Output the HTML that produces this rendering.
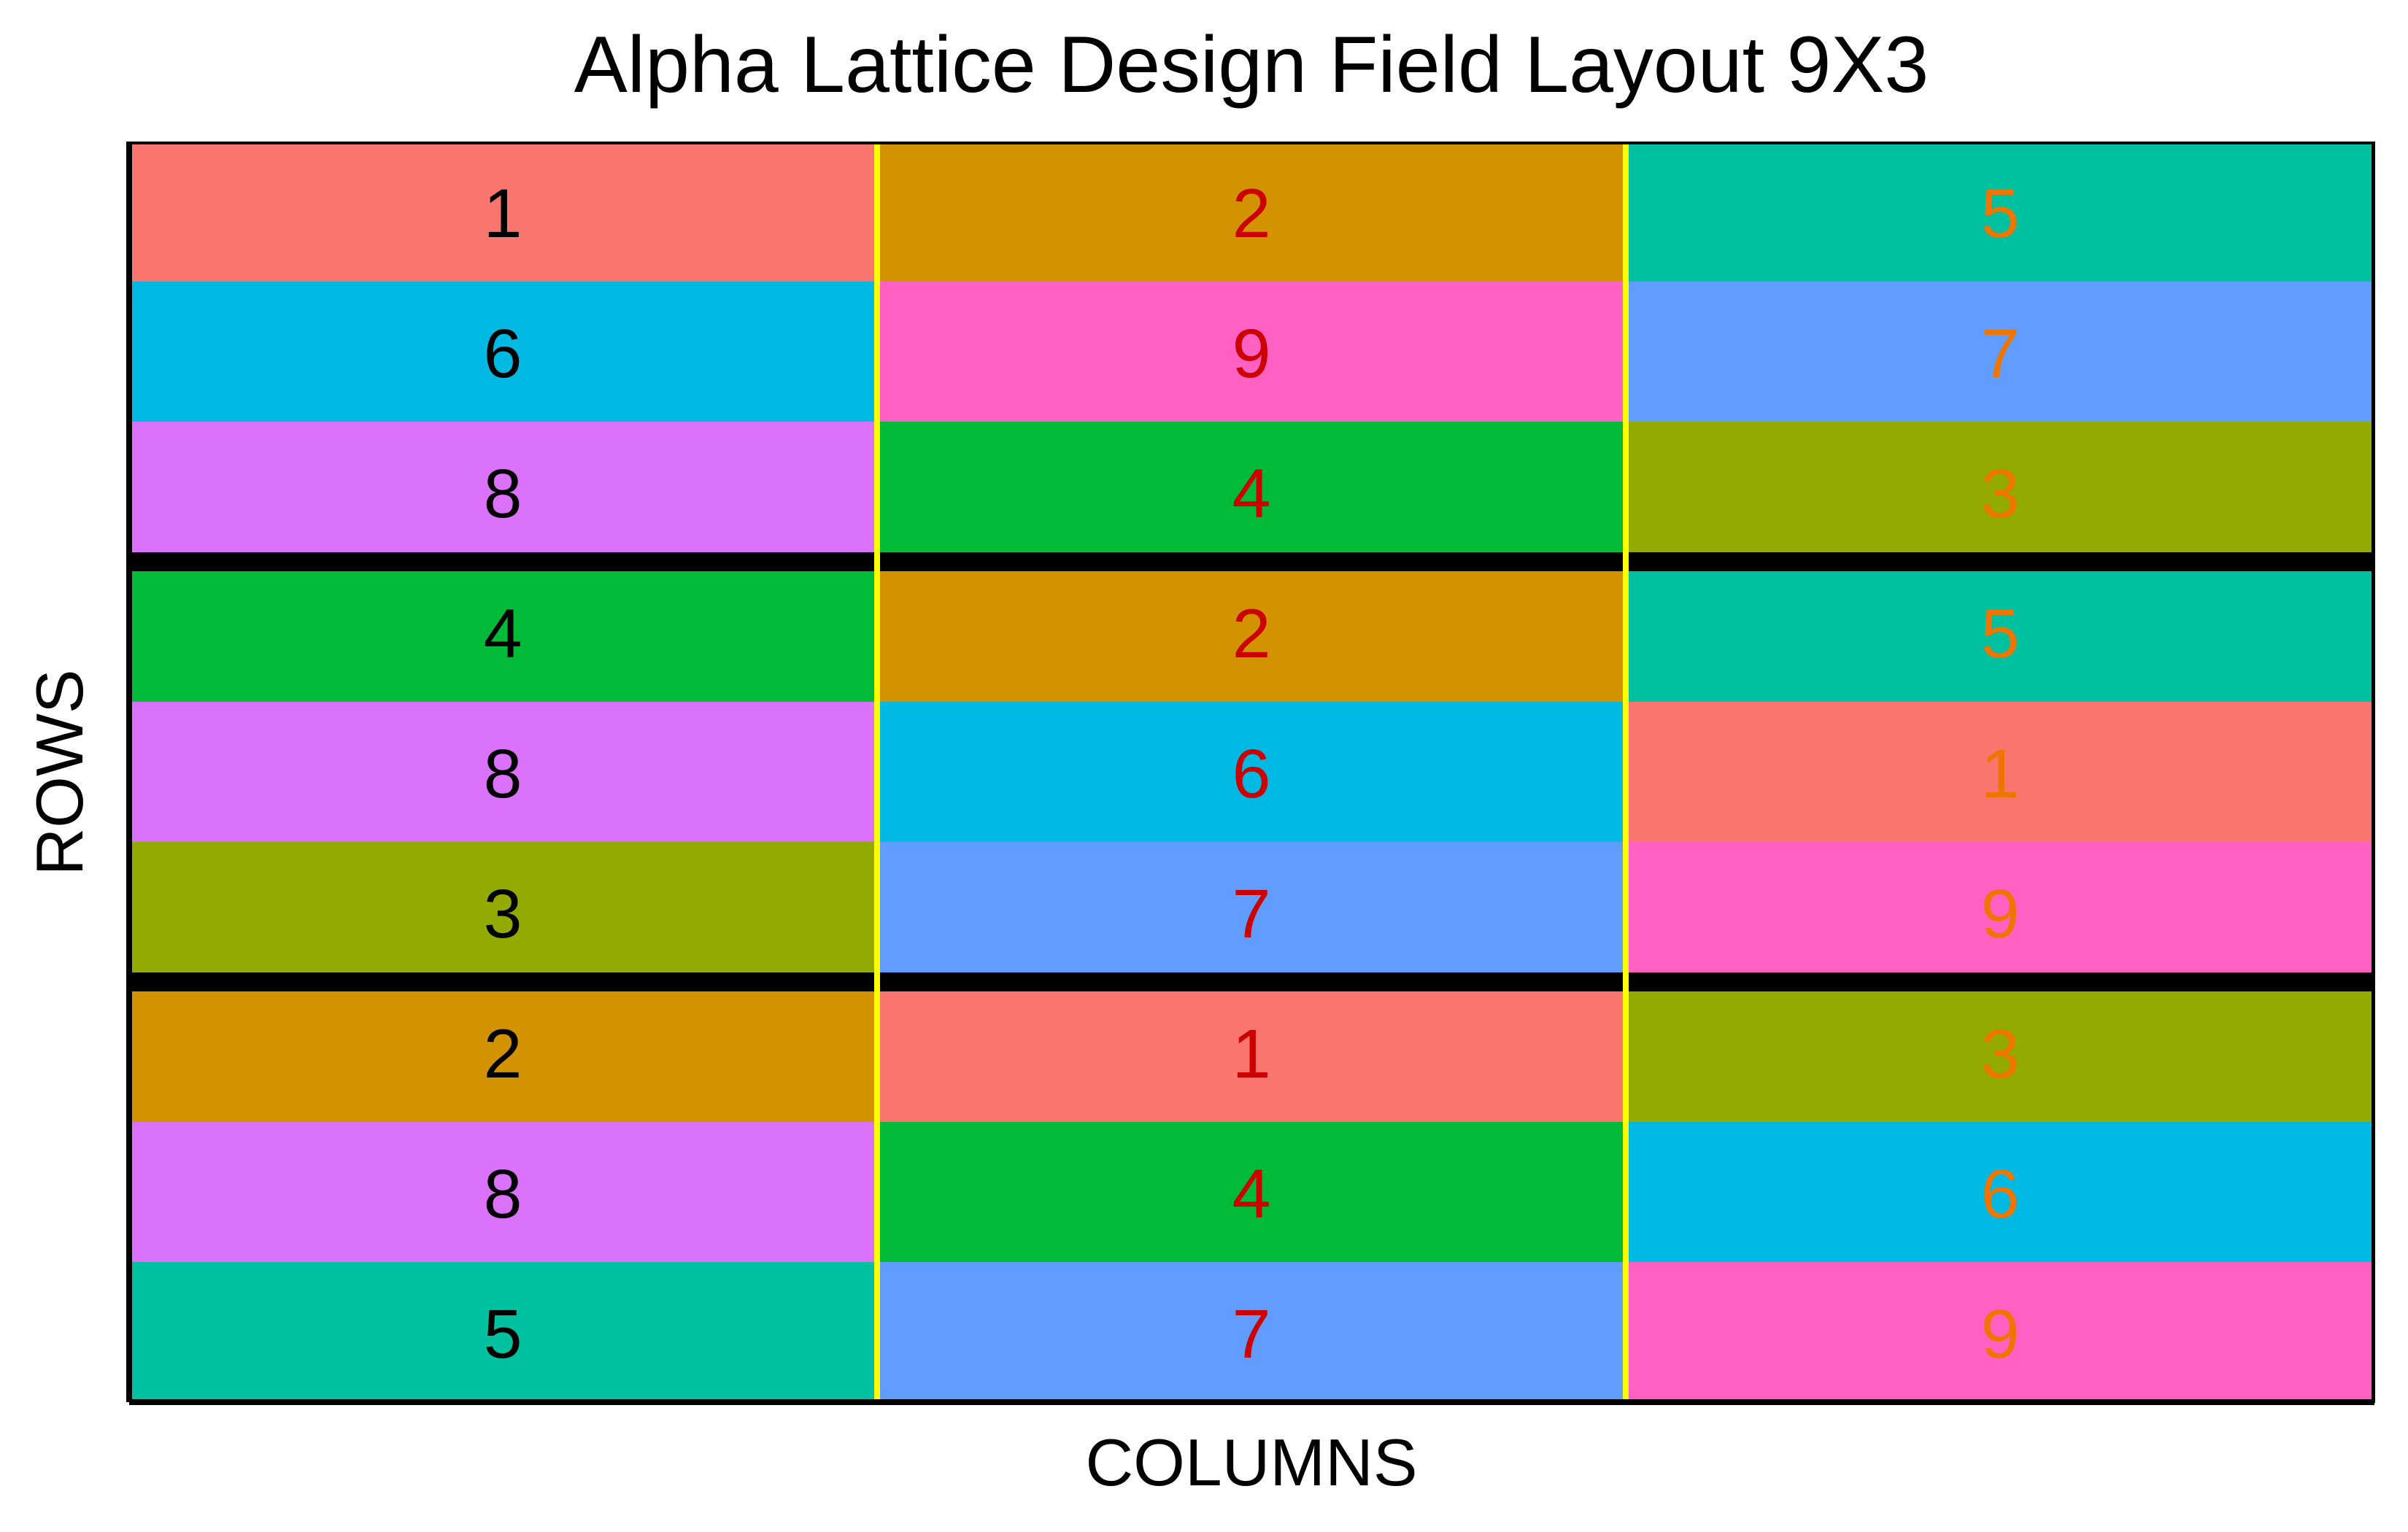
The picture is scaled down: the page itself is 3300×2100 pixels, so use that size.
<!DOCTYPE html>
<html lang="en">
<head>
<meta charset="utf-8">
<title>Alpha Lattice Design Field Layout 9X3</title>
<style>
  html, body { margin: 0; padding: 0; background: #fff; }
  svg { display: block; }
  text { font-family: "Liberation Sans", Arial, sans-serif; }
</style>
</head>
<body>
<svg id="chart" xmlns="http://www.w3.org/2000/svg" width="3300" height="2100" viewBox="0 0 3300 2100">
  <rect x="0" y="0" width="3300" height="2100" fill="#ffffff"/>
  <g id="tiles"></g>
  <g id="dividers"></g>
  <g id="frame">
    <rect x="173" y="194" width="3082" height="4" fill="#000"/>
    <rect x="173" y="194" width="8" height="1728" fill="#000"/>
    <rect x="3250" y="194" width="5" height="1729" fill="#000"/>
    <rect x="177" y="1918" width="3077" height="8" fill="#000"/>
  </g>
  <g id="labels"></g>
  <text x="1715" y="126" font-size="109.5" text-anchor="middle" fill="#000">Alpha Lattice Design Field Layout 9X3</text>
  <text x="1715" y="2036" font-size="91" text-anchor="middle" fill="#000">COLUMNS</text>
  <text transform="translate(113 1059) rotate(-90)" font-size="91" text-anchor="middle" fill="#000">ROWS</text>
</svg>
<script>
// Treatment number per plot, one array per column, listed top row to bottom row.
const column1 = [1, 6, 8, 4, 8, 3, 2, 8, 5];
const column2 = [2, 9, 4, 2, 6, 7, 1, 4, 7];
const column3 = [5, 7, 3, 5, 1, 9, 3, 6, 9];
const columns = [column1, column2, column3];
// Fill per treatment 1..9.
const treatmentColors = ['#F8766D', '#D39200', '#93AA00', '#00BA38', '#00C19F', '#00B9E3', '#619CFF', '#DB72FB', '#FF61C3'];
// Digit colour per column.
const columnTextColors = ['#000000', '#CD0000', '#EE7600'];
// Rows per replicate block.
const rowsPerBlock = 3;

const plotLeft = 176, plotRight = 3254, plotTop = 194, plotBottom = 1922;
const SVG_NS = 'http://www.w3.org/2000/svg';
const rowCount = column1.length;
const columnCount = columns.length;
function xScale(c) { return plotLeft + c * (plotRight - plotLeft) / columnCount; }
function yScale(r) { return plotTop + r * (plotBottom - plotTop) / rowCount; }

function make(tag, attrs) {
  const el = document.createElementNS(SVG_NS, tag);
  for (const k in attrs) el.setAttribute(k, attrs[k]);
  return el;
}

const tilesGroup = document.getElementById('tiles');
const labelsGroup = document.getElementById('labels');
const dividersGroup = document.getElementById('dividers');

columns.forEach(function (values, c) {
  values.forEach(function (treatment, r) {
    const tile = make('rect', {
      x: xScale(c),
      y: yScale(r),
      width: xScale(c + 1) - xScale(c),
      height: yScale(r + 1) - yScale(r),
      fill: treatmentColors[treatment - 1]
    });
    
    
    tilesGroup.appendChild(tile);

    const label = make('text', {
      x: (xScale(c) + xScale(c + 1)) / 2,
      y: (yScale(r) + yScale(r + 1)) / 2 + 35,
      'font-size': 95,
      'text-anchor': 'middle',
      fill: columnTextColors[c]
    });
    
    
    label.textContent = String(treatment);
    labelsGroup.appendChild(label);
  });
});

for (let r = rowsPerBlock; r < rowCount; r += rowsPerBlock) {
  const band = make('rect', {
    x: plotLeft,
    y: yScale(r) - 13,
    width: plotRight - plotLeft,
    height: 26,
    fill: '#000000'
  });
  
  
  dividersGroup.appendChild(band);
}

for (let c = 1; c < columnCount; c++) {
  const line = make('rect', {
    x: xScale(c) - 4,
    y: plotTop,
    width: 8,
    height: plotBottom - plotTop,
    fill: '#FFFF00'
  });
  
  
  dividersGroup.appendChild(line);
}
</script>
</body>
</html>
